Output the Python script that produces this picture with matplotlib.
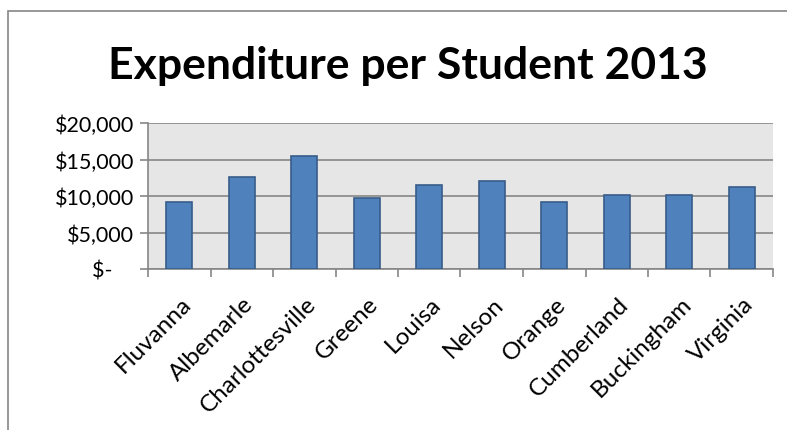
import matplotlib.pyplot as plt
import matplotlib.patches as mpatches
import matplotlib.transforms as mtransforms
from matplotlib import rcParams
from matplotlib.ticker import FuncFormatter

rcParams['font.family'] = ['Lato', 'DejaVu Sans']

# data
places = ['Fluvanna', 'Albemarle', 'Charlottesville', 'Greene', 'Louisa',
          'Nelson', 'Orange', 'Cumberland', 'Buckingham', 'Virginia']
spending = [9120, 12650, 15500, 9660, 11470, 12060, 9200, 10110, 10160, 11290]
yticks = [0, 5000, 10000, 15000, 20000]

fig = plt.figure(figsize=(7.87, 4.31), dpi=100)

# outer chart frame
frame = mpatches.Rectangle((8/787, -0.1), 1.0, 1 - 12/431 + 0.1, transform=fig.transFigure,
                           fill=False, edgecolor='#868686', linewidth=1.2)
fig.patches.append(frame)

ax = fig.add_axes([148/787, 1 - 270/431, (773 - 148)/787, (270 - 124)/431])
ax.set_facecolor('#e6e6e6')

x = range(len(places))
ax.bar(x, spending, width=0.42, color='#4f81bd', edgecolor='#385d8a', linewidth=1.2, zorder=3)

ax.set_ylim(0, 20000)
ax.set_xlim(-0.5, len(places) - 0.5)
ax.set_yticks(yticks)

def money(v, pos):
    if v == 0:
        return '$-    '
    return '${:,.0f}'.format(v)

ax.yaxis.set_major_formatter(FuncFormatter(money))
ax.yaxis.grid(True, color='#868686', linewidth=1.2, zorder=1)
ax.set_axisbelow(True)

ax.set_xticks(list(x))
ax.set_xticklabels(places, rotation=45, ha='right', rotation_mode='anchor')
ax.set_xticks([i + 0.5 for i in range(-1, len(places))], minor=True)
ax.tick_params(axis='x', which='major', length=0, labelsize=17.5, pad=17)
ax.tick_params(axis='x', which='minor', length=6, color='#868686', width=1.2, direction='out')
ax.tick_params(axis='y', length=6, color='#868686', width=1.2, labelsize=15.5, pad=4)

shift = mtransforms.ScaledTranslation(1/100, 0, fig.dpi_scale_trans)
for lbl in ax.get_xticklabels():
    lbl.set_transform(lbl.get_transform() + shift)

for s in ['top', 'right']:
    ax.spines[s].set_visible(False)
for s in ['left', 'bottom']:
    ax.spines[s].set_color('#868686')
    ax.spines[s].set_linewidth(1.2)

fig.text(408/787, 1 - 66/431, 'Expenditure per Student 2013', ha='center', va='center',
         fontsize=32, fontweight='bold')

fig.savefig('out.png', dpi=100)
